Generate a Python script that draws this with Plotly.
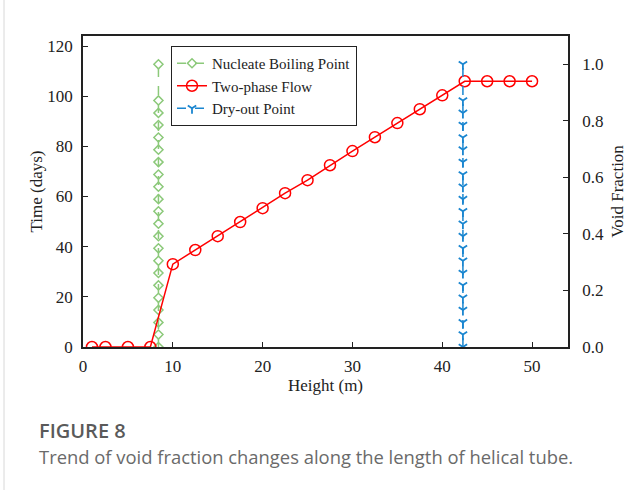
import plotly.graph_objects as go

# ---- data ----
height_red = [1, 2.5, 5, 7.5, 10, 12.5, 15, 17.5, 20, 22.5, 25, 27.5, 30, 32.5,
              35, 37.5, 40, 42.5, 45, 47.5, 50]
void_red = [0, 0, 0, 0, 0.293, 0.343, 0.392, 0.442, 0.491, 0.544, 0.590, 0.643,
            0.693, 0.742, 0.792, 0.841, 0.890, 0.940, 0.940, 0.940, 0.940]

nb_x = 8.4
do_x = 42.3
vert_y = [0, 0.044, 0.087, 0.131, 0.174, 0.218, 0.262, 0.305, 0.349, 0.392, 0.436,
          0.480, 0.523, 0.567, 0.610, 0.654, 0.698, 0.741, 0.785, 0.828, 0.872, 1.0]

x_ticks = [0, 10, 20, 30, 40, 50]
y_left_ticks = [0, 20, 40, 60, 80, 100, 120]
y_right_ticks = [0, 0.2, 0.4, 0.6, 0.8, 1.0]
y_right_labels = ["0.0", "0.2", "0.4", "0.6", "0.8", "1.0"]

serif = "Liberation Serif"
green = "#8cc97a"
red = "#ff0000"
blue = "#1a86d0"

fig = go.Figure()
fig.add_trace(go.Scatter(x=[None], y=[None], yaxis="y", showlegend=False, hoverinfo="skip"))
fig.add_trace(go.Scatter(
    x=[nb_x] * len(vert_y), y=vert_y, yaxis="y2", name="Nucleate Boiling Point",
    mode="lines+markers", line=dict(color=green, width=1.5, dash="dash"),
    marker=dict(symbol="diamond-open", size=7, color=green, line=dict(width=1.5))))
fig.add_trace(go.Scatter(
    x=height_red, y=void_red, yaxis="y2", name="Two-phase Flow",
    mode="lines+markers", line=dict(color=red, width=1.5),
    marker=dict(symbol="circle-open", size=11, color=red, line=dict(width=1.5))))
fig.add_trace(go.Scatter(
    x=[do_x] * len(vert_y), y=vert_y, yaxis="y2", name="Dry-out Point",
    mode="lines+markers", line=dict(color=blue, width=1.5, dash="dash"),
    marker=dict(symbol="y-down-open", size=7, color=blue, line=dict(width=1.8))))

L, R, T, B = 83, 568, 36, 347
W, H = 641, 490
ph = B - T

def py(pix):
    return (B - pix) / ph

axis_font = dict(family=serif, size=17, color="#222")
title_font = dict(family=serif, size=17, color="#222")
fig.update_layout(
    width=W, height=H,
    margin=dict(l=L, r=W - R, t=T, b=H - B, pad=0),
    paper_bgcolor="white", plot_bgcolor="white",
    xaxis=dict(range=[0, 54], tickvals=x_ticks, ticks="inside", ticklen=5,
               tickcolor="#222", showline=True, linecolor="#222", linewidth=1.5,
               mirror=True, showgrid=False, zeroline=False, tickfont=axis_font,
               ticklabelstandoff=3,
               title=dict(text="Height (m)", font=title_font, standoff=0)),
    yaxis=dict(range=[0, 124], tickvals=y_left_ticks, ticks="inside", ticklen=5,
               tickcolor="#222", showline=True, linecolor="#222", linewidth=1.5,
               showgrid=False, zeroline=False, tickfont=axis_font,
               ticklabelstandoff=5,
               title=dict(text="Time (days)", font=title_font, standoff=0)),
    yaxis2=dict(range=[0, 1.1], tickvals=y_right_ticks, ticktext=y_right_labels,
                overlaying="y", side="right", ticks="inside", ticklen=5,
                tickcolor="#222", showline=True, linecolor="#222", linewidth=1.5,
                showgrid=False, zeroline=False, tickfont=axis_font,
                ticklabelstandoff=9,
                title=dict(text="Void Fraction", font=title_font, standoff=8)),
    legend=dict(x=(171 - L) / (R - L), y=py(46), xanchor="left", yanchor="top",
                bgcolor="white", bordercolor="#222", borderwidth=1,
                font=dict(family=serif, size=15, color="#222"),
                tracegroupgap=0, itemwidth=30),
    showlegend=True,
)

fig.add_annotation(text="FIGURE 8", xref="paper", yref="paper",
                   x=(37 - L) / (R - L), y=py(430), xanchor="left", yanchor="middle",
                   showarrow=False,
                   font=dict(family="Open Sans", size=20, color="#5a5a5a", weight=600))
fig.add_annotation(text="Trend of void fraction changes along the length of helical tube.",
                   xref="paper", yref="paper",
                   x=(37 - L) / (R - L), y=py(456), xanchor="left", yanchor="middle",
                   showarrow=False, font=dict(family="Open Sans", size=18.4, color="#6a6a6a"))
fig.add_shape(type="line", xref="paper", yref="paper",
              x0=(4 - L) / (R - L), x1=(4 - L) / (R - L), y0=py(0), y1=py(490),
              line=dict(color="#d8d8d8", width=1))

fig.write_html("out.html")
